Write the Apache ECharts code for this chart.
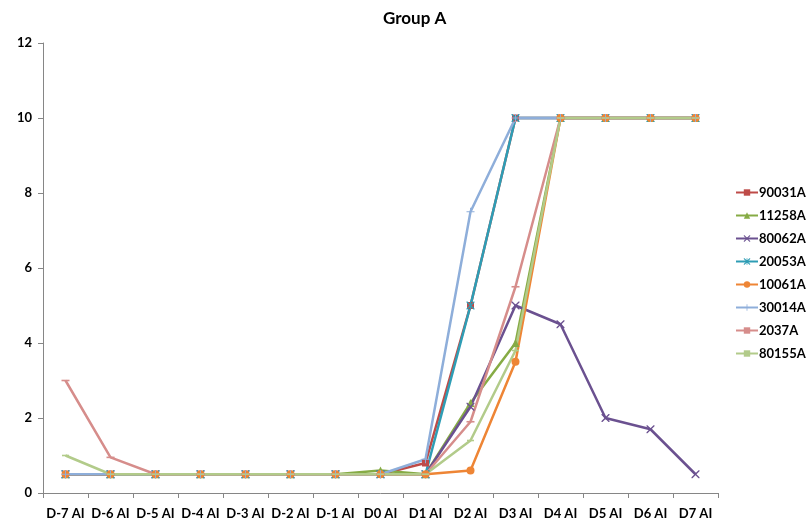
<!DOCTYPE html>
<html><head><meta charset="utf-8">
<script src="https://cdn.jsdelivr.net/npm/echarts@6/dist/echarts.min.js"></script>
<style>html,body{margin:0;padding:0;background:#fff}#c{width:811px;height:524px}</style>
</head><body><div id="c"></div>
<script>
const categories = ['D-7 AI','D-6 AI','D-5 AI','D-4 AI','D-3 AI','D-2 AI','D-1 AI','D0 AI','D1 AI','D2 AI','D3 AI','D4 AI','D5 AI','D6 AI','D7 AI'];
const yTicks = [0, 2, 4, 6, 8, 10, 12];
const seriesNames = ['90031A','11258A','80062A','20053A','10061A','30014A','2037A','80155A'];
const s90031A = [0.5,0.5,0.5,0.5,0.5,0.5,0.5,0.5,0.8,5,10,10,10,10,10];
const s11258A = [0.5,0.5,0.5,0.5,0.5,0.5,0.5,0.6,0.5,2.4,4,10,10,10,10];
const s80062A = [0.5,0.5,0.5,0.5,0.5,0.5,0.5,0.5,0.5,2.3,5,4.5,2,1.7,0.5];
const s20053A = [0.5,0.5,0.5,0.5,0.5,0.5,0.5,0.5,0.5,5,10,10,10,10,10];
const s10061A = [0.5,0.5,0.5,0.5,0.5,0.5,0.5,0.5,0.5,0.6,3.5,10,10,10,10];
const s30014A = [0.5,0.5,0.5,0.5,0.5,0.5,0.5,0.5,0.9,7.5,10,10,10,10,10];
const s2037A  = [3,0.95,0.5,0.5,0.5,0.5,0.5,0.5,0.5,1.9,5.5,10,10,10,10];
const s80155A = [1,0.5,0.5,0.5,0.5,0.5,0.5,0.5,0.5,1.4,3.8,10,10,10,10];
const seriesData = [s90031A,s11258A,s80062A,s20053A,s10061A,s30014A,s2037A,s80155A];

const colors = ['#BE4B48','#86AB45','#6B5190','#2E9DB5','#EE8535','#8EAEDA','#D68D8B','#B2CB8A'];
const X = 'path://M0,0 L1.2,0 L5,3.8 L8.8,0 L10,0 L10,1.2 L6.2,5 L10,8.8 L10,10 L8.8,10 L5,6.2 L1.2,10 L0,10 L0,8.8 L3.8,5 L0,1.2 Z';
const PLUS = 'path://M4.4,0 L5.6,0 L5.6,4.4 L10,4.4 L10,5.6 L5.6,5.6 L5.6,10 L4.4,10 L4.4,5.6 L0,5.6 L0,4.4 L4.4,4.4 Z';
const STAR = 'path://M0,0 L1.2,0 L4.4,3.2 L4.4,0 L5.6,0 L5.6,3.2 L8.8,0 L10,0 L10,1.2 L6.2,5 L10,8.8 L10,10 L8.8,10 L5.6,6.8 L5.6,10 L4.4,10 L4.4,6.8 L1.2,10 L0,10 L0,8.8 L3.8,5 L0,1.2 Z';
const DASH = 'path://M0,0 L10,0 L10,2 L0,2 Z';
const symbols = ['rect','triangle',X,STAR,'circle',PLUS,DASH,DASH];
const symSizes = [7,8,8,8,8,8,[8,1.6],[7,1.6]];

const font = 'Lato, "Open Sans", sans-serif';
const chart = echarts.init(document.getElementById('c'), null, {renderer:'canvas'});
chart.setOption({
  animation: false,
  backgroundColor: '#fff',
  title: { text: 'Group A', left: 378, top: 5, textStyle: { fontFamily: font, fontWeight: 'bold', fontSize: 17, color: '#000' } },
  grid: { left: 43, right: 93, top: 43, bottom: 31, containLabel: false },
  legend: {
    orient: 'vertical', left: 730, top: 181, itemGap: 10, itemWidth: 22, itemHeight: 8,
    data: seriesNames,
    textStyle: { fontFamily: font, fontWeight: 'bold', fontSize: 13, color: '#000', padding: [0,0,0,-4] }
  },
  xAxis: {
    type: 'category', data: categories, boundaryGap: true,
    axisLine: { lineStyle: { color: '#868686', width: 1 } },
    axisTick: { show: true, alignWithLabel: false, length: 5, lineStyle: { color: '#868686' } },
    axisLabel: { interval: 0, margin: 14, fontFamily: font, fontWeight: 'bold', fontSize: 13, color: '#000' },
    splitLine: { show: false }
  },
  yAxis: {
    type: 'value', min: yTicks[0], max: yTicks[yTicks.length-1], interval: 2,
    axisLine: { show: true, lineStyle: { color: '#868686', width: 1 } },
    axisTick: { show: true, length: 5, lineStyle: { color: '#868686' } },
    axisLabel: { margin: 11, fontFamily: font, fontWeight: 'bold', fontSize: 13, color: '#000' },
    splitLine: { show: false }
  },
  series: seriesNames.map((n, i) => ({
    name: n, type: 'line', data: seriesData[i],
    symbol: symbols[i], symbolSize: symSizes[i], showAllSymbol: true,
    lineStyle: { color: colors[i], width: 2.5 },
    itemStyle: { color: colors[i], borderColor: colors[i], borderWidth: 0 },
    emphasis: { disabled: true }
  }))
});
</script></body></html>
